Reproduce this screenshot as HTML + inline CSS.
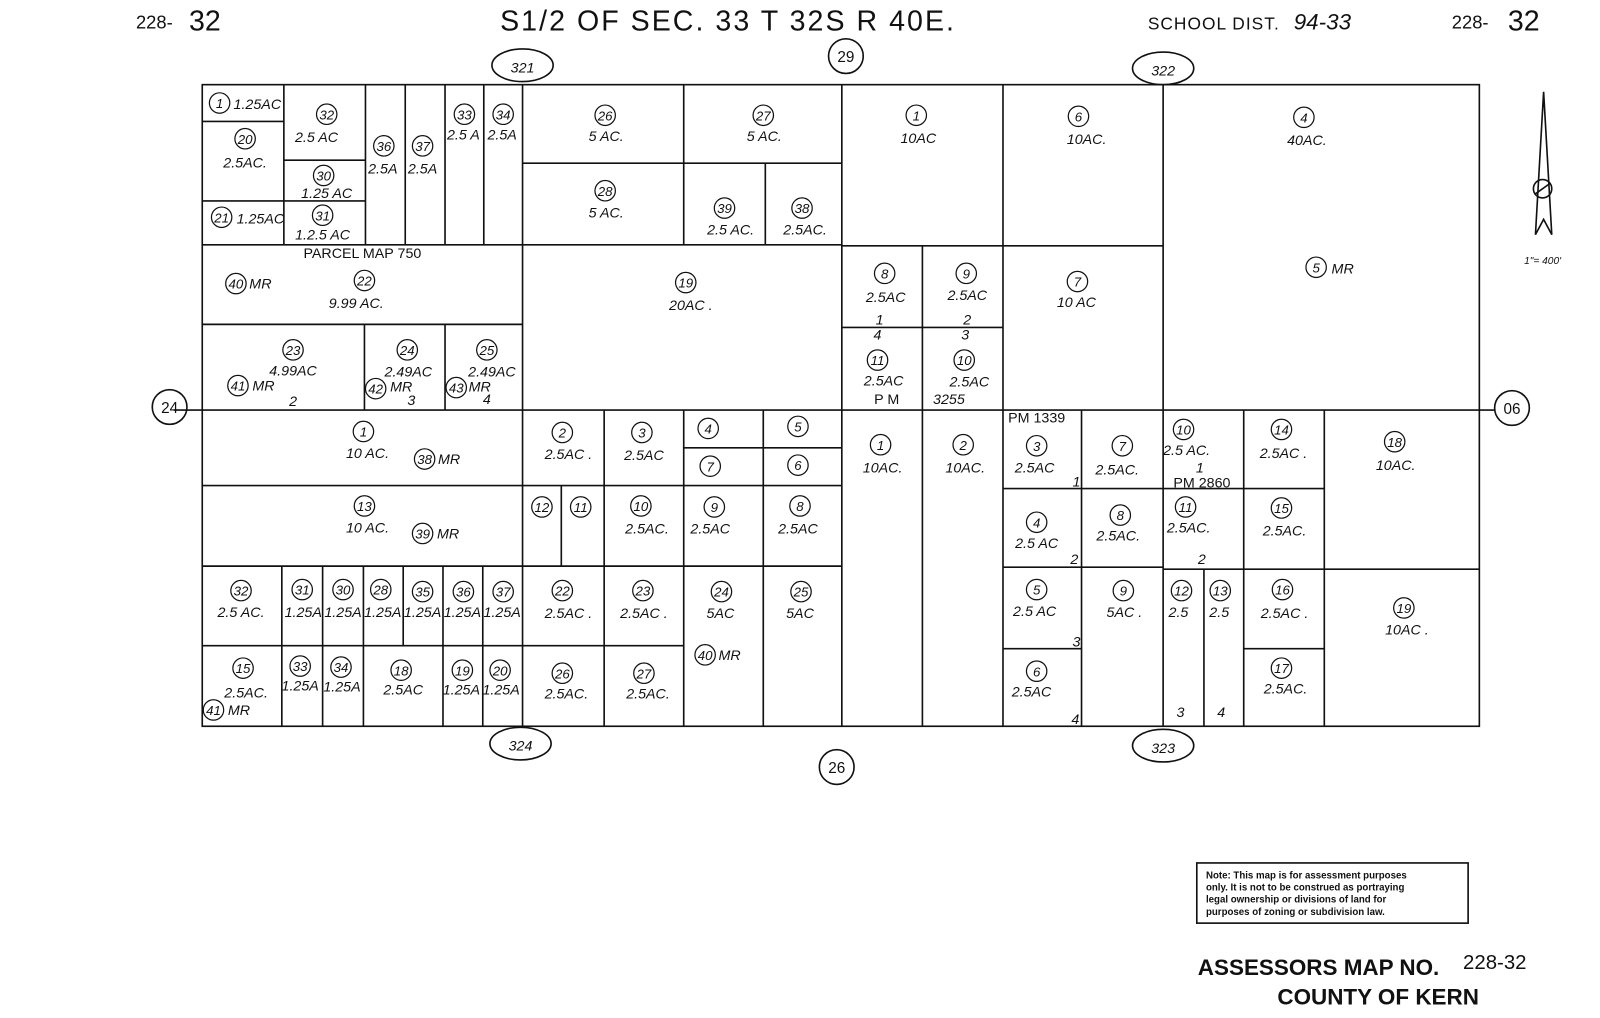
<!DOCTYPE html><html><head><style>body{margin:0;background:#fff}svg{display:block}text{font-family:"Liberation Sans",sans-serif;fill:#111}.i{font-style:italic;font-size:14px}.n{font-style:italic;font-size:13px;text-anchor:middle}.a{font-style:italic;font-size:14px;text-anchor:middle}</style></head><body>
<svg width="1600" height="1018" viewBox="0 0 1568 998" xmlns="http://www.w3.org/2000/svg">
<g fill="none" stroke="#111" stroke-width="1.6">
<rect x="198" y="83" width="1252" height="629"/>
<line x1="170" y1="402" x2="1465" y2="402"/>
<line x1="825" y1="83" x2="825" y2="712"/><line x1="1140" y1="83" x2="1140" y2="712"/>
<line x1="512" y1="83" x2="512" y2="712"/>
<line x1="198" y1="240" x2="825" y2="240"/>
<line x1="278" y1="83" x2="278" y2="240"/><line x1="198" y1="119" x2="278" y2="119"/><line x1="198" y1="197" x2="358" y2="197"/><line x1="278" y1="157" x2="358" y2="157"/>
<line x1="358" y1="83" x2="358" y2="240"/><line x1="397" y1="83" x2="397" y2="240"/><line x1="436" y1="83" x2="436" y2="240"/><line x1="474" y1="83" x2="474" y2="240"/>
<line x1="670" y1="83" x2="670" y2="240"/><line x1="512" y1="160" x2="825" y2="160"/><line x1="750" y1="160" x2="750" y2="240"/>
<line x1="198" y1="318" x2="512" y2="318"/><line x1="357" y1="318" x2="357" y2="402"/><line x1="436" y1="318" x2="436" y2="402"/>
<line x1="983" y1="83" x2="983" y2="712"/><line x1="825" y1="241" x2="1140" y2="241"/><line x1="904" y1="241" x2="904" y2="402"/><line x1="825" y1="321" x2="983" y2="321"/>
<line x1="198" y1="476" x2="825" y2="476"/><line x1="198" y1="555" x2="825" y2="555"/><line x1="198" y1="633" x2="670" y2="633"/>
<line x1="592" y1="402" x2="592" y2="712"/><line x1="670" y1="402" x2="670" y2="712"/><line x1="748" y1="402" x2="748" y2="712"/><line x1="670" y1="439" x2="825" y2="439"/>
<line x1="550" y1="476" x2="550" y2="555"/>
<line x1="276" y1="555" x2="276" y2="712"/><line x1="316" y1="555" x2="316" y2="712"/><line x1="356" y1="555" x2="356" y2="712"/><line x1="395" y1="555" x2="395" y2="633"/><line x1="434" y1="555" x2="434" y2="712"/><line x1="473" y1="555" x2="473" y2="712"/>
<line x1="904" y1="402" x2="904" y2="712"/><line x1="1060" y1="402" x2="1060" y2="712"/>
<line x1="983" y1="479" x2="1140" y2="479"/><line x1="983" y1="556" x2="1140" y2="556"/><line x1="983" y1="636" x2="1060" y2="636"/>
<line x1="1219" y1="402" x2="1219" y2="712"/><line x1="1140" y1="479" x2="1298" y2="479"/><line x1="1140" y1="558" x2="1450" y2="558"/><line x1="1219" y1="636" x2="1298" y2="636"/><line x1="1180" y1="558" x2="1180" y2="712"/><line x1="1298" y1="402" x2="1298" y2="712"/>
<ellipse cx="512" cy="64" rx="30" ry="16"/><ellipse cx="1140" cy="67" rx="30" ry="16"/><ellipse cx="510" cy="729" rx="30" ry="16"/><ellipse cx="1140" cy="731" rx="30" ry="16"/>
<circle cx="829" cy="55" r="17"/><circle cx="820" cy="752" r="17"/><circle cx="166" cy="399" r="17"/><circle cx="1482" cy="400" r="17"/>
<rect x="1173" y="846" width="266" height="59"/>
<path d="M1513 90 L1505 230 L1513 215 L1521 230 Z"/><circle cx="1512" cy="185" r="9"/><line x1="1505" y1="190" x2="1519" y2="180"/>
</g>
<g font-size="28" font-family="Liberation Sans">
<text x="133" y="28" font-size="18">228-</text><text x="185" y="30">32</text>
<text x="490" y="30" letter-spacing="2">S1/2 OF SEC. 33 T 32S R 40E.</text>
<text x="1125" y="29" font-size="17" letter-spacing="1">SCHOOL DIST.</text><text x="1268" y="29" font-size="22" font-style="italic">94-33</text>
<text x="1423" y="28" font-size="18">228-</text><text x="1478" y="30">32</text>
</g>
<g class="a" font-size="18"><text x="512" y="71" text-anchor="middle" font-style="italic">321</text><text x="1140" y="74" text-anchor="middle">322</text><text x="510" y="736" text-anchor="middle">324</text><text x="1140" y="738" text-anchor="middle">323</text></g>
<g font-size="15" text-anchor="middle"><text x="829" y="61">29</text><text x="820" y="758">26</text><text x="166" y="405">24</text><text x="1482" y="406">06</text></g>
<g fill="none" stroke="#111" stroke-width="1.2">
<circle cx="215" cy="101" r="10"/><circle cx="320" cy="112" r="10"/><circle cx="376" cy="143" r="10"/><circle cx="414" cy="143" r="10"/><circle cx="455" cy="112" r="10"/><circle cx="493" cy="112" r="10"/><circle cx="240" cy="136" r="10"/><circle cx="317" cy="172" r="10"/><circle cx="217" cy="213" r="10"/><circle cx="316" cy="211" r="10"/>
<circle cx="593" cy="113" r="10"/><circle cx="748" cy="113" r="10"/><circle cx="593" cy="187" r="10"/><circle cx="710" cy="204" r="10"/><circle cx="786" cy="204" r="10"/><circle cx="898" cy="113" r="10"/><circle cx="1057" cy="114" r="10"/><circle cx="1278" cy="115" r="10"/>
<circle cx="231" cy="278" r="10"/><circle cx="357" cy="275" r="10"/><circle cx="672" cy="277" r="10"/><circle cx="287" cy="343" r="10"/><circle cx="399" cy="343" r="10"/><circle cx="477" cy="343" r="10"/><circle cx="233" cy="378" r="10"/><circle cx="368" cy="381" r="10"/><circle cx="447" cy="380" r="10"/>
<circle cx="867" cy="268" r="10"/><circle cx="947" cy="268" r="10"/><circle cx="1056" cy="276" r="10"/><circle cx="1290" cy="262" r="10"/><circle cx="860" cy="353" r="10"/><circle cx="945" cy="353" r="10"/>
<circle cx="356" cy="423" r="10"/><circle cx="416" cy="450" r="10"/><circle cx="551" cy="424" r="10"/><circle cx="629" cy="424" r="10"/><circle cx="694" cy="420" r="10"/><circle cx="782" cy="418" r="10"/><circle cx="696" cy="457" r="10"/><circle cx="782" cy="456" r="10"/>
<circle cx="357" cy="496" r="10"/><circle cx="414" cy="523" r="10"/><circle cx="531" cy="497" r="10"/><circle cx="569" cy="497" r="10"/><circle cx="628" cy="496" r="10"/><circle cx="700" cy="497" r="10"/><circle cx="784" cy="496" r="10"/>
<circle cx="236" cy="579" r="10"/><circle cx="296" cy="578" r="10"/><circle cx="336" cy="578" r="10"/><circle cx="373" cy="578" r="10"/><circle cx="414" cy="580" r="10"/><circle cx="454" cy="580" r="10"/><circle cx="493" cy="580" r="10"/><circle cx="551" cy="579" r="10"/><circle cx="630" cy="579" r="10"/><circle cx="707" cy="580" r="10"/><circle cx="785" cy="580" r="10"/><circle cx="691" cy="642" r="10"/>
<circle cx="238" cy="655" r="10"/><circle cx="294" cy="653" r="10"/><circle cx="334" cy="654" r="10"/><circle cx="393" cy="657" r="10"/><circle cx="453" cy="657" r="10"/><circle cx="490" cy="657" r="10"/><circle cx="551" cy="660" r="10"/><circle cx="631" cy="660" r="10"/><circle cx="209" cy="696" r="10"/>
<circle cx="863" cy="436" r="10"/><circle cx="944" cy="436" r="10"/><circle cx="1016" cy="437" r="10"/><circle cx="1100" cy="437" r="10"/><circle cx="1016" cy="512" r="10"/><circle cx="1098" cy="505" r="10"/><circle cx="1016" cy="578" r="10"/><circle cx="1101" cy="579" r="10"/><circle cx="1016" cy="658" r="10"/>
<circle cx="1160" cy="421" r="10"/><circle cx="1256" cy="421" r="10"/><circle cx="1367" cy="433" r="10"/><circle cx="1162" cy="497" r="10"/><circle cx="1256" cy="498" r="10"/><circle cx="1158" cy="579" r="10"/><circle cx="1196" cy="579" r="10"/><circle cx="1257" cy="578" r="10"/><circle cx="1376" cy="596" r="10"/><circle cx="1256" cy="655" r="10"/>
</g>
<g class="n">
<text x="215" y="106">1</text><text x="320" y="117">32</text><text x="376" y="148">36</text><text x="414" y="148">37</text><text x="455" y="117">33</text><text x="493" y="117">34</text><text x="240" y="141">20</text><text x="317" y="177">30</text><text x="217" y="218">21</text><text x="316" y="216">31</text>
<text x="593" y="118">26</text><text x="748" y="118">27</text><text x="593" y="192">28</text><text x="710" y="209">39</text><text x="786" y="209">38</text><text x="898" y="118">1</text><text x="1057" y="119">6</text><text x="1278" y="120">4</text>
<text x="231" y="283">40</text><text x="357" y="280">22</text><text x="672" y="282">19</text><text x="287" y="348">23</text><text x="399" y="348">24</text><text x="477" y="348">25</text><text x="233" y="383">41</text><text x="368" y="386">42</text><text x="447" y="385">43</text>
<text x="867" y="273">8</text><text x="947" y="273">9</text><text x="1056" y="281">7</text><text x="1290" y="267">5</text><text x="860" y="358">11</text><text x="945" y="358">10</text>
<text x="356" y="428">1</text><text x="416" y="455">38</text><text x="551" y="429">2</text><text x="629" y="429">3</text><text x="694" y="425">4</text><text x="782" y="423">5</text><text x="696" y="462">7</text><text x="782" y="461">6</text>
<text x="357" y="501">13</text><text x="414" y="528">39</text><text x="531" y="502">12</text><text x="569" y="502">11</text><text x="628" y="501">10</text><text x="700" y="502">9</text><text x="784" y="501">8</text>
<text x="236" y="584">32</text><text x="296" y="583">31</text><text x="336" y="583">30</text><text x="373" y="583">28</text><text x="414" y="585">35</text><text x="454" y="585">36</text><text x="493" y="585">37</text><text x="551" y="584">22</text><text x="630" y="584">23</text><text x="707" y="585">24</text><text x="785" y="585">25</text><text x="691" y="647">40</text>
<text x="238" y="660">15</text><text x="294" y="658">33</text><text x="334" y="659">34</text><text x="393" y="662">18</text><text x="453" y="662">19</text><text x="490" y="662">20</text><text x="551" y="665">26</text><text x="631" y="665">27</text><text x="209" y="701">41</text>
<text x="863" y="441">1</text><text x="944" y="441">2</text><text x="1016" y="442">3</text><text x="1100" y="442">7</text><text x="1016" y="517">4</text><text x="1098" y="510">8</text><text x="1016" y="583">5</text><text x="1101" y="584">9</text><text x="1016" y="663">6</text>
<text x="1160" y="426">10</text><text x="1256" y="426">14</text><text x="1367" y="438">18</text><text x="1162" y="502">11</text><text x="1256" y="503">15</text><text x="1158" y="584">12</text><text x="1196" y="584">13</text><text x="1257" y="583">16</text><text x="1376" y="601">19</text><text x="1256" y="660">17</text>
</g>
<g class="a">
<text x="252" y="107">1.25AC</text><text x="310" y="139">2.5 AC</text><text x="375" y="170">2.5A</text><text x="414" y="170">2.5A</text><text x="454" y="137">2.5 A</text><text x="492" y="137">2.5A</text><text x="240" y="164">2.5AC.</text><text x="320" y="194">1.25 AC</text><text x="255" y="219">1.25AC</text><text x="316" y="235">1.2.5 AC</text>
<text x="594" y="138">5 AC.</text><text x="749" y="138">5 AC.</text><text x="594" y="213">5 AC.</text><text x="716" y="230">2.5 AC.</text><text x="789" y="230">2.5AC.</text><text x="900" y="140">10AC</text><text x="1065" y="141">10AC.</text><text x="1281" y="142">40AC.</text>
<text x="355" y="253" font-style="normal">PARCEL  MAP  750</text><text x="255" y="283">MR</text><text x="349" y="302">9.99  AC.</text><text x="677" y="304">20AC .</text>
<text x="287" y="368">4.99AC</text><text x="400" y="369">2.49AC</text><text x="482" y="369">2.49AC</text><text x="258" y="383">MR</text><text x="393" y="384">MR</text><text x="470" y="384">MR</text><text x="287" y="398">2</text><text x="403" y="397">3</text><text x="477" y="396">4</text>
<text x="868" y="296">2.5AC</text><text x="948" y="294">2.5AC</text><text x="1055" y="301">10 AC</text><text x="1316" y="268">MR</text><text x="862" y="318">1</text><text x="860" y="333">4</text><text x="948" y="318">2</text><text x="946" y="333">3</text>
<text x="866" y="378">2.5AC</text><text x="950" y="379">2.5AC</text><text x="869" y="396" font-style="normal">P M</text><text x="930" y="396">3255</text>
<text x="360" y="449">10 AC.</text><text x="440" y="455">MR</text><text x="557" y="450">2.5AC .</text><text x="631" y="451">2.5AC</text>
<text x="360" y="522">10 AC.</text><text x="439" y="528">MR</text><text x="634" y="523">2.5AC.</text><text x="696" y="523">2.5AC</text><text x="782" y="523">2.5AC</text>
<text x="236" y="605">2.5 AC.</text><text x="297" y="605">1.25A</text><text x="336" y="605">1.25A</text><text x="375" y="605">1.25A</text><text x="414" y="605">1.25A</text><text x="453" y="605">1.25A</text><text x="492" y="605">1.25A</text><text x="557" y="606">2.5AC .</text><text x="631" y="606">2.5AC .</text><text x="706" y="606">5AC</text><text x="784" y="606">5AC</text><text x="715" y="647">MR</text>
<text x="241" y="684">2.5AC.</text><text x="294" y="677">1.25A</text><text x="335" y="678">1.25A</text><text x="395" y="681">2.5AC</text><text x="452" y="681">1.25A</text><text x="491" y="681">1.25A</text><text x="555" y="685">2.5AC.</text><text x="635" y="685">2.5AC.</text><text x="234" y="701">MR</text>
<text x="865" y="463">10AC.</text><text x="946" y="463">10AC.</text><text x="1016" y="414" font-style="normal">PM 1339</text><text x="1014" y="463">2.5AC</text><text x="1095" y="465">2.5AC.</text><text x="1055" y="477">1</text>
<text x="1016" y="537">2.5 AC</text><text x="1096" y="530">2.5AC.</text><text x="1053" y="553">2</text><text x="1014" y="604">2.5 AC</text><text x="1102" y="605">5AC .</text><text x="1055" y="634">3</text><text x="1011" y="683">2.5AC</text><text x="1054" y="710">4</text>
<text x="1163" y="446">2.5 AC.</text><text x="1176" y="463">1</text><text x="1178" y="478" font-style="normal">PM 2860</text><text x="1258" y="449">2.5AC .</text><text x="1368" y="461">10AC.</text>
<text x="1165" y="522">2.5AC.</text><text x="1178" y="553">2</text><text x="1259" y="525">2.5AC.</text><text x="1155" y="605">2.5</text><text x="1195" y="605">2.5</text><text x="1259" y="606">2.5AC .</text><text x="1379" y="622">10AC .</text><text x="1260" y="680">2.5AC.</text><text x="1157" y="703">3</text><text x="1197" y="703">4</text>
<text x="1512" y="259" font-size="10">1"= 400'</text>
</g>
<g font-family="Liberation Sans" font-weight="bold" fill="#111">
<text x="1182" y="861" font-size="9.5">Note: This map is for assessment purposes</text>
<text x="1182" y="873" font-size="9.5">only. It is not to be construed as portraying</text>
<text x="1182" y="885" font-size="9.5">legal ownership or divisions of land for</text>
<text x="1182" y="897" font-size="9.5">purposes of zoning or subdivision law.</text>
<text x="1174" y="956" font-size="22">ASSESSORS MAP NO.</text><text x="1434" y="950" font-size="20" font-weight="normal">228-32</text>
<text x="1252" y="985" font-size="22">COUNTY OF KERN</text>
</g>
</svg></body></html>
